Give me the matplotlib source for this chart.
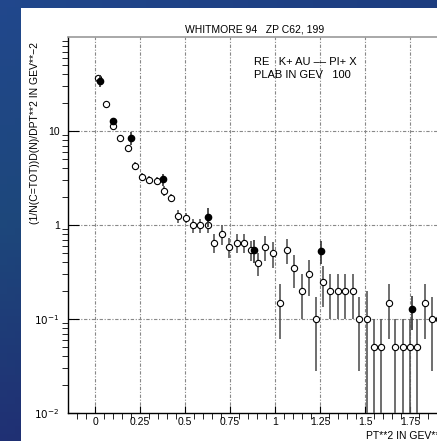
import numpy as np
import matplotlib
matplotlib.use("Agg")
import matplotlib.pyplot as plt
from matplotlib.patches import Rectangle

plt.rcParams['font.family'] = ['Liberation Sans', 'DejaVu Sans']

# open circles: pt**2 bins, value, error
pt2_open = [0.018, 0.061, 0.100, 0.141, 0.181, 0.222, 0.263, 0.302, 0.343, 0.381,
            0.422, 0.463, 0.504, 0.544, 0.585, 0.626, 0.663, 0.704, 0.744, 0.787,
            0.826, 0.865, 0.904, 0.946, 0.986, 1.026, 1.067, 1.107, 1.148, 1.189,
            1.228, 1.268, 1.307, 1.348, 1.389, 1.430, 1.468, 1.509, 1.548, 1.589,
            1.630, 1.668, 1.709, 1.750, 1.790, 1.832, 1.872, 1.912]
val_open = [36.9, 19.4, 11.3, 8.4, 6.65, 4.27, 3.27, 3.01, 2.94, 2.32,
            1.94, 1.25, 1.19, 1.0, 1.0, 1.0, 0.648, 0.80, 0.588, 0.648,
            0.648, 0.542, 0.397, 0.588, 0.50, 0.149, 0.542, 0.346, 0.20, 0.301,
            0.10, 0.249, 0.20, 0.20, 0.20, 0.20, 0.10, 0.10, 0.05, 0.05,
            0.149, 0.05, 0.05, 0.05, 0.05, 0.149, 0.10, 0.10]
err_open = [2.0, 0.8, 0.5, 0.4, 0.5, 0.4, 0.3, 0.3, 0.3, 0.27,
            0.2, 0.2, 0.15, 0.17, 0.17, 0.17, 0.15, 0.19, 0.14, 0.15,
            0.15, 0.13, 0.11, 0.175, 0.155, 0.087, 0.16, 0.13, 0.10, 0.125,
            0.072, 0.115, 0.10, 0.10, 0.10, 0.10, 0.072, 0.099, 0.0499, 0.0499,
            0.088, 0.0499, 0.0499, 0.0499, 0.0499, 0.088, 0.072, 0.072]

# filled circles
pt2_fill = [0.028, 0.102, 0.202, 0.380, 0.630, 0.882, 1.256, 1.759]
val_fill = [34.3, 12.9, 8.4, 3.06, 1.23, 0.542, 0.533, 0.127]
err_fill = [5.0, 1.0, 1.3, 0.45, 0.27, 0.15, 0.15, 0.05]

xticks = [0, 0.25, 0.5, 0.75, 1, 1.25, 1.5, 1.75]
xticklabels = ['0', '0.25', '0.5', '0.75', '1', '1.25', '1.5', '1.75']
yticks = [1e-2, 1e-1, 1, 10]
yticklabels = [r'$10^{-2}$', r'$10^{-1}$', '1', '10']

W, H = 437, 441
fig = plt.figure(figsize=(W / 100, H / 100), dpi=100)

# blue gradient background
bg = fig.add_axes([0, 0, 1, 1])
bg.set_axis_off()
gx, gy = np.meshgrid(np.linspace(0, 1, 60), np.linspace(0, 1, 60))
c_tl = np.array([0.13, 0.28, 0.55])
c_tr = np.array([0.10, 0.20, 0.45])
c_ml = np.array([0.10, 0.28, 0.42])
c_bl = np.array([0.12, 0.10, 0.36])
top = c_tl * (1 - gx[..., None]) + c_tr * gx[..., None]
left = np.where(gy[..., None] < 0.5,
                c_tl + (c_ml - c_tl) * (gy[..., None] / 0.5),
                c_ml + (c_bl - c_ml) * ((gy[..., None] - 0.5) / 0.5))
img = 0.5 * top + 0.5 * left
bg.imshow(img, extent=[0, 1, 0, 1], aspect='auto', origin='upper')
bg.add_patch(Rectangle((21 / W, 0), 1, 1 - 8 / H, facecolor='white', edgecolor='none'))
bg.set_xlim(0, 1)
bg.set_ylim(0, 1)

ax = fig.add_axes([68 / W, (H - 413) / H, 380 / W, (413 - 37) / H])
ax.set_yscale('log')
ax.set_xlim(-0.15, 1.96)
ax.set_ylim(1e-2, 1e2)

for g in xticks:
    ax.axvline(g, color='#888888', lw=0.8, ls=(0, (3, 1.5, 1, 1.5)), zorder=1)
for g in [0.1, 1, 10]:
    ax.axhline(g, color='#888888', lw=0.8, ls=(0, (3, 1.5, 1, 1.5)), zorder=1)

ax.errorbar(pt2_open, val_open, yerr=err_open, fmt='o', ms=4.5, mfc='white',
            mec='black', mew=0.8, ecolor='#555555', elinewidth=1.2, capsize=0, zorder=3)
ax.errorbar(pt2_fill, val_fill, yerr=err_fill, fmt='o', ms=4.5, mfc='black',
            mec='black', ecolor='#333333', elinewidth=1.2, capsize=0, zorder=4)

ax.set_xticks(xticks)
ax.set_xticklabels(xticklabels)
ax.set_xticks(np.arange(-0.1, 1.96, 0.05), minor=True)
ax.set_yticks(yticks)
ax.set_yticklabels(yticklabels)
ax.tick_params(axis='both', direction='in', labelsize=7.5, color='black', width=0.8)
ax.tick_params(axis='x', which='major', length=5, pad=3)
ax.tick_params(axis='x', which='minor', length=4)
ax.tick_params(axis='y', which='major', length=8, pad=6)
ax.tick_params(axis='y', which='minor', length=4)
ax.tick_params(right=False, top=False, which='both')
ax.spines['top'].set_color('#999999')
ax.spines['top'].set_linewidth(1.2)
ax.spines['right'].set_visible(False)
ax.spines['left'].set_linewidth(1.0)
ax.spines['bottom'].set_linewidth(1.0)

fig.text(255 / W, 1 - 29 / H, 'WHITMORE 94   ZP C62, 199', ha='center', va='center',
         fontsize=7.5)
fig.text(254 / W, 1 - 62 / H, 'RE   K+ AU \u2013\u2013 PI+ X', ha='left', va='center',
         fontsize=8)
fig.text(254 / W, 1 - 75 / H, 'PLAB IN GEV   100', ha='left', va='center', fontsize=8)
fig.text(35 / W, 1 - 42 / H, '(1/N(C=TOT))D(N)/DPT**2 IN GEV**\u22122', rotation=90,
         ha='center', va='top', fontsize=7.5)
fig.text(366 / W, 1 - 436 / H, 'PT**2 IN GEV**2', ha='left', va='center', fontsize=7.5)

fig.savefig('out.png', dpi=100)
